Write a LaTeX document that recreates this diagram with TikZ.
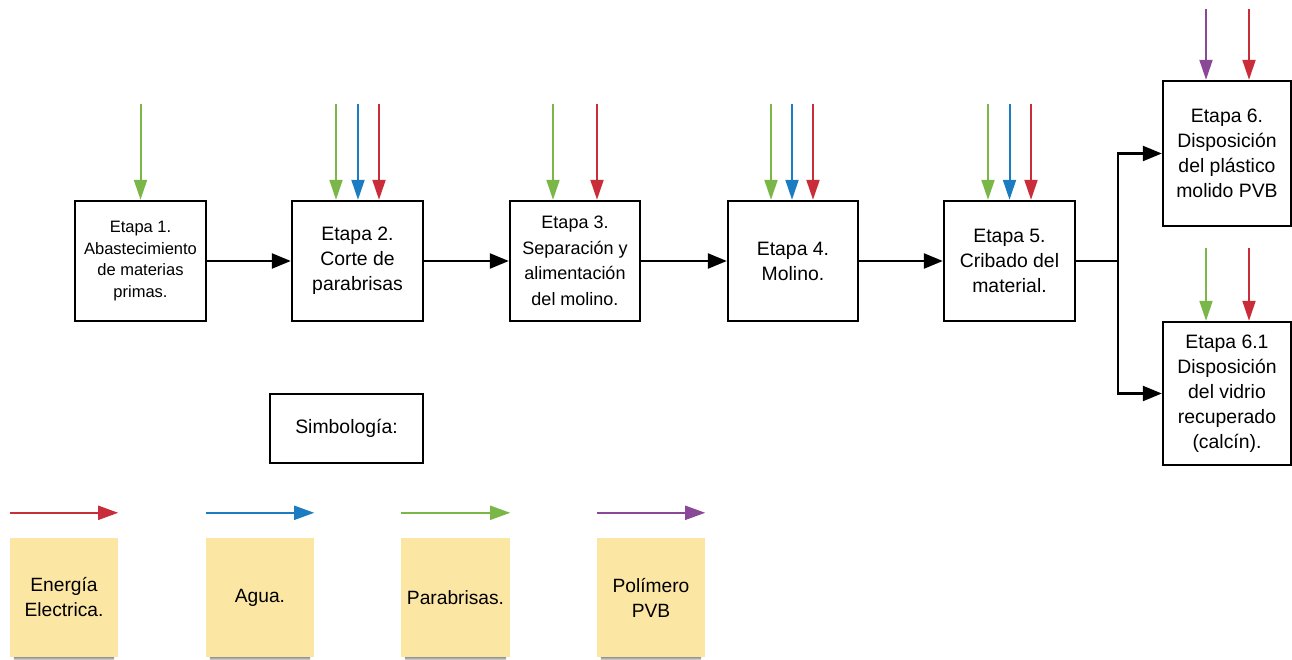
\documentclass[tikz,border=0pt]{standalone}
\usepackage{fontspec}
\setmainfont{Liberation Sans}
\usetikzlibrary{arrows.meta}

\definecolor{cRed}{HTML}{C92D39}
\definecolor{cBlue}{HTML}{1C7CC2}
\definecolor{cGreen}{HTML}{7AB648}
\definecolor{cPurple}{HTML}{8A4896}
\definecolor{cNote}{HTML}{FCE6A4}

\tikzset{
  stage/.style={draw=black, line width=2.4pt, fill=white, align=center,
    minimum width=131pt, minimum height=120pt, inner sep=2pt,
    font=\fontsize{19.4}{25}\selectfont},
  flow/.style={line width=2.4pt, -{Triangle[length=19pt,width=15pt]}},
  feed/.style={line width=2pt, draw=#1, {Triangle[length=20pt,width=13pt,fill=#1]}-},
  legarrow/.style={line width=2pt, draw=#1, -{Triangle[length=20pt,width=14pt,fill=#1]}},
  note/.style={fill=cNote, align=center, minimum width=108pt, minimum height=119pt,
    inner sep=2pt, font=\fontsize{19.2}{25}\selectfont},
}

\begin{document}
\begin{tikzpicture}[x=1pt, y=-1pt]
  \useasboundingbox (0,0) rectangle (1292,660);

  % process stages
  \node[stage, font=\fontsize{16.5}{21.5}\selectfont] (b1) at (140.5,261) {Etapa 1.\\Abastecimiento\\de materias\\primas.};
  \node[stage] (b2) at (357.5,261) {Etapa 2.\\Corte de\\parabrisas};
  \node[stage, minimum width=130pt, font=\fontsize{18}{25.5}\selectfont] (b3) at (575,261) {Etapa 3.\\Separación y\\alimentación\\del molino.};
  \node[stage, minimum width=130pt] (b4) at (793,261) {Etapa 4.\\Molino.};
  \node[stage] (b5) at (1009.5,261) {Etapa 5.\\Cribado del\\material.};
  \node[stage, minimum width=128pt, minimum height=145pt] (b6) at (1227,153.5) {Etapa 6.\\Disposición\\del plástico\\molido PVB};
  \node[stage, minimum width=128pt, minimum height=143pt] (b61) at (1227,393.5) {Etapa 6.1\\Disposición\\del vidrio\\recuperado\\(calcín).};

  % main flow
  \draw[flow] (b1.east) -- (b2.west);
  \draw[flow] (b2.east) -- (b3.west);
  \draw[flow] (b3.east) -- (b4.west);
  \draw[flow] (b4.east) -- (b5.west);
  \coordinate (split) at (1118,261);
  \draw[line width=2.4pt] (b5.east) -- (split);
  \draw[flow] (split) |- (b6.west);
  \draw[flow] (split) |- (b61.west);

  % material and energy inputs
  \draw[feed=cGreen] (b1.north) -- ++(0,-96);
  \foreach \b/\dx/\c in {b2/-21.5/cGreen, b2/0.5/cBlue, b2/21.5/cRed,
                         b3/-22/cGreen, b3/22/cRed,
                         b4/-22/cGreen, b4/-1/cBlue, b4/20/cRed,
                         b5/-21.5/cGreen, b5/0/cBlue, b5/21.5/cRed}
    \draw[feed=\c] ([xshift=\dx pt]\b.north) -- ++(0,-96);
  \draw[feed=cPurple] ([xshift=-21pt]b6.north) -- ++(0,-71);
  \draw[feed=cRed] ([xshift=22pt]b6.north) -- ++(0,-71);
  \draw[feed=cGreen] ([xshift=-21pt]b61.north) -- ++(0,-73);
  \draw[feed=cRed] ([xshift=22pt]b61.north) -- ++(0,-73);

  % legend
  \node[stage, minimum width=153pt, minimum height=69pt] (simb) at (346.5,428.5) {Simbología:};

  \node[note] (n1) at (64,597.5) {Energía\\Electrica.};
  \node[note] (n2) at (260,597.5) {Agua.};
  \node[note, minimum width=109pt] (n3) at (455.5,597.5) {Parabrisas.};
  \node[note] (n4) at (651,597.5) {Polímero\\PVB};

  \foreach \n in {n1,n2,n3,n4}
    \shade[top color=black!40, bottom color=white]
      ([xshift=4pt]\n.south west) rectangle ([xshift=-4pt,yshift=-4pt]\n.south east);

  \draw[legarrow=cRed] ([yshift=25pt]n1.north west) -- ([yshift=25pt]n1.north east);
  \draw[legarrow=cBlue] ([yshift=25pt]n2.north west) -- ([yshift=25pt]n2.north east);
  \draw[legarrow=cGreen] ([yshift=25pt]n3.north west) -- ([yshift=25pt]n3.north east);
  \draw[legarrow=cPurple] ([yshift=25pt]n4.north west) -- ([yshift=25pt]n4.north east);
\end{tikzpicture}
\end{document}
